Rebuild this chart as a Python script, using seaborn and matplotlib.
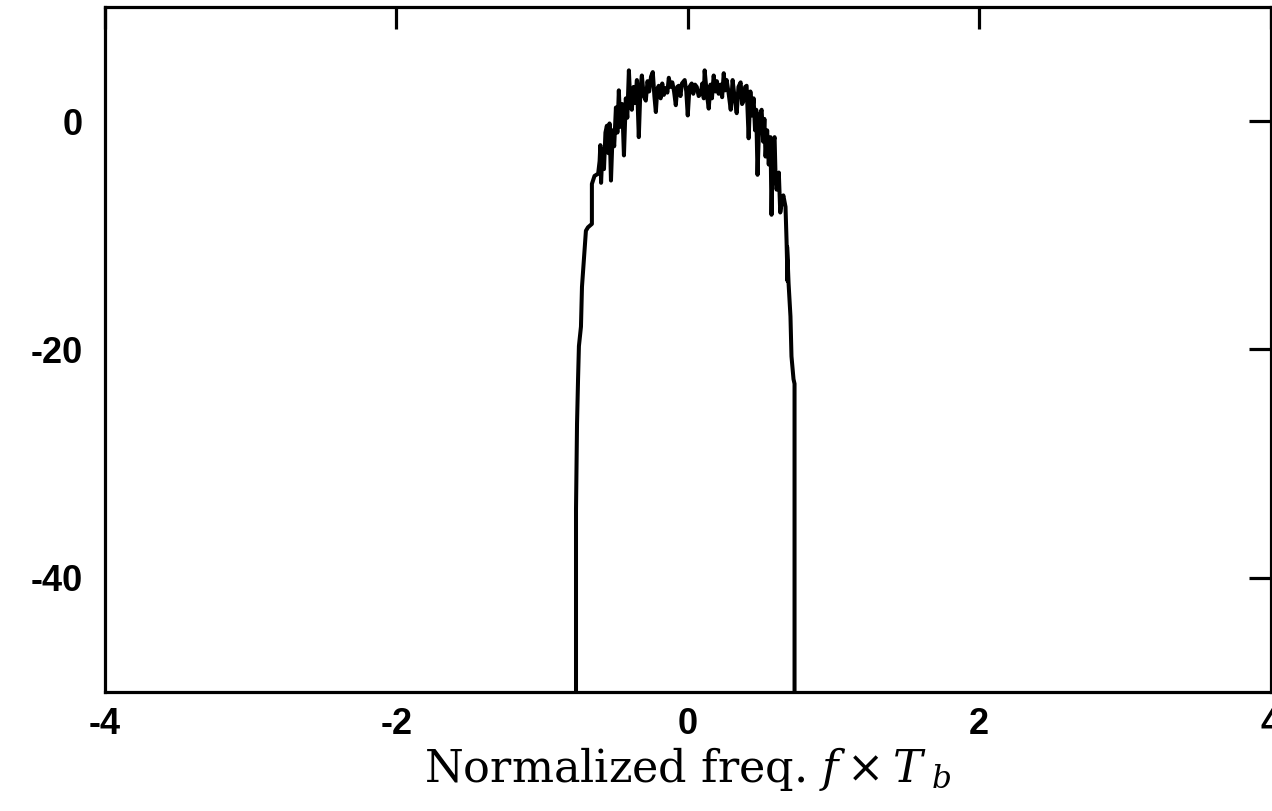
"""
Power spectral density of the filtered signal vs normalized frequency
"""
import pandas as pd
import matplotlib
matplotlib.use("Agg")
import matplotlib.pyplot as plt
import seaborn as sns

# Curve (normalized freq, PSD in dB)
freq = [
    # left skirt
    -0.767, -0.767, -0.760, -0.753, -0.747, -0.733, -0.726, -0.712, -0.699, -0.685,
    -0.658, -0.658, -0.640, -0.615,
    # noisy top
    -0.605, -0.600, -0.595, -0.585, -0.575, -0.565, -0.555, -0.545, -0.537, -0.527,
    -0.515, -0.505, -0.493, -0.483, -0.473, -0.463, -0.450, -0.438, -0.425, -0.415,
    -0.404, -0.394, -0.384, -0.372, -0.362, -0.349, -0.336, -0.325, -0.315, -0.302,
    -0.288, -0.276, -0.265, -0.252, -0.240, -0.229, -0.219, -0.209, -0.199, -0.186,
    -0.175, -0.164, -0.150, -0.140, -0.130, -0.118, -0.106, -0.094, -0.082, -0.072,
    -0.062, -0.050, -0.040, -0.021, -0.010, 0.000, 0.012, 0.027, 0.038, 0.050,
    0.062, 0.075, 0.089, 0.100, 0.110, 0.116, 0.130, 0.144, 0.156, 0.166,
    0.178, 0.190, 0.200, 0.212, 0.225, 0.236, 0.247, 0.257, 0.267, 0.280,
    0.295, 0.308, 0.322, 0.336, 0.348, 0.363, 0.373, 0.384, 0.394, 0.404,
    0.418, 0.430, 0.440, 0.452, 0.462, 0.470, 0.479, 0.492, 0.507, 0.518,
    0.526, 0.534, 0.545, 0.556, 0.568, 0.575, 0.585, 0.596, 0.603, 0.610,
    0.625, 0.635, 0.644, 0.656,
    # right skirt
    0.671, 0.678, 0.685, 0.682, 0.692, 0.705, 0.712, 0.726, 0.733, 0.733,
]
psd_db = [
    -50.0, -34.0, -26.5, -22.6, -19.7, -18.0, -14.5, -12.0, -9.6, -9.3,
    -9.0, -5.5, -4.8, -4.6,
    -3.5, -2.1, -5.4, -2.5, -4.2, -1.0, -0.4, -2.8, -0.2, -5.2,
    -0.8, -2.2, 1.2, -1.0, 2.7, -0.5, 1.5, -3.0, 2.0, 0.3,
    4.45, 1.5, 1.0, 3.0, 1.6, 3.6, -1.4, 2.8, 4.0, 2.2,
    1.8, 3.5, 2.6, 3.9, 4.3, 2.2, 0.8, 2.8, 3.1, 2.0,
    3.3, 2.3, 2.9, 2.5, 3.8, 3.0, 3.4, 2.6, 1.4, 3.0,
    3.1, 2.2, 3.3, 3.6, 2.6, 0.5, 3.0, 3.3, 2.4, 3.2,
    3.0, 2.2, 2.4, 3.3, 2.0, 4.45, 2.5, 1.1, 3.2, 2.0,
    4.0, 2.6, 3.5, 2.4, 3.2, 2.1, 4.2, 2.7, 3.6, 2.5,
    1.0, 3.6, 2.0, 0.7, 3.0, 3.4, 1.5, 1.8, 3.0, 3.1,
    -1.5, 2.6, 0.5, 2.0, -0.8, 1.0, -4.7, 0.5, 1.0, -1.8,
    0.2, -3.1, -0.8, -3.8, -1.4, -8.2, -2.0, -1.4, -5.0, -6.0,
    -4.5, -8.0, -7.2, -6.5,
    -7.5, -10.4, -14.0, -11.0, -14.2, -17.1, -20.6, -22.6, -23.0, -50.0,
]

x_ticks = [-4, -2, 0, 2, 4]
y_ticks = [0, -20, -40]

sns.set_theme(style="white")
plt.rcParams["font.family"] = ["Liberation Sans", "DejaVu Sans"]
plt.rcParams["mathtext.fontset"] = "dejavuserif"
plt.rcParams["axes.unicode_minus"] = False

fig = plt.figure(figsize=(12.72, 8.11), dpi=100)
ax = fig.add_axes([105 / 1272, 119 / 811, 1165.5 / 1272, 685 / 811])

spectrum = pd.DataFrame({"freq": freq, "psd": psd_db})
sns.lineplot(data=spectrum, x="freq", y="psd", sort=False, estimator=None,
             color="black", linewidth=2.9, ax=ax)

ax.set_xlim(-4, 4)
ax.set_ylim(-50, 10)
ax.set_xticks(x_ticks)
ax.set_yticks(y_ticks)
ax.tick_params(direction="in", length=16, width=2.3, top=True, right=True,
               labelsize=26, colors="black")
ax.tick_params(axis="x", pad=11)
ax.tick_params(axis="y", pad=16)
for label in ax.get_xticklabels() + ax.get_yticklabels():
    label.set_fontweight("bold")
for spine in ax.spines.values():
    spine.set_visible(True)
    spine.set_linewidth(2.3)
    spine.set_color("black")

ax.set_xlabel(r"Normalized freq. $f \times T_{\ b}$", fontfamily="DejaVu Serif",
              fontsize=32, color="black", labelpad=2)
ax.set_ylabel("")

fig.savefig("out.png", dpi=100)
